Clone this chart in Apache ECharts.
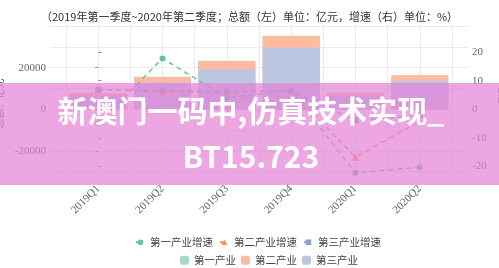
<!DOCTYPE html>
<html><head><meta charset="utf-8">
<script src="https://cdn.jsdelivr.net/npm/echarts@6/dist/echarts.min.js"></script>
<style>html,body{margin:0;padding:0;background:#fff}#c{width:499px;height:268px}</style>
</head><body><div id="c"></div>
<script>
const categories = ['2019Q1','2019Q2','2019Q3','2019Q4','2020Q1','2020Q2'];
const primary   = [20, 50, 75, 114, 20, 45];
const secondary = [1100, 2700, 4150, 5600, 1050, 2700];
const tertiary  = [6580, 12820, 19055, 29606, 6790, 13635];
const growth1 = [-5, 17.8, 4, 6.5, -22.3, -20.3];
const growth2 = [7, 6, 6, 6.5, -16.8, -4.2];
const growth3 = [6.8, 6.6, 6.2, 6.4, -3.9, -2.2];
const leftTicks = [-20000, 0, 20000];
const rightTicks = [-20, -10, 0, 10, 20];
const barNames = ['第一产业','第二产业','第三产业'];
const lineNames = ['第一产业增速','第二产业增速','第三产业增速'];
const titleText = '（2019年第一季度~2020年第二季度；总额（左）单位：亿元，增速（右）单位：%）';

const C1 = '#66c2a5', C2 = '#fc8d62', C3 = '#8da0cb';
// bar fills = palette at 60% over white (opaque so overlapping stack segments don't blend)
const B1 = '#a3dac9', B2 = '#fdbba1', B3 = '#bbc6e0';
const SERIF = '"Liberation Serif","Noto Sans CJK SC",serif';
const CJK = '"Noto Sans CJK SC",sans-serif';
const pos = categories.map((_, i) => i);
const pts = arr => arr.map((v, i) => [pos[i], v]);
// stacked tops (tertiary at bottom, then secondary, then primary on top)
const stackTop3 = tertiary.slice();
const stackTop2 = tertiary.map((v, i) => v + secondary[i]);
const stackTop1 = stackTop2.map((v, i) => v + primary[i]);

const chart = echarts.init(document.getElementById('c'), null, {renderer: 'canvas'});
const gridColor = '#ebebeb';
const tickStyle = {show: true, length: 3, lineStyle: {color: '#888', width: 1}};

function barSeries(name, data, color, z) {
  return {name, type: 'bar', xAxisIndex: 0, yAxisIndex: 0, z,
    barWidth: 57, barGap: '-100%', data: pts(data), itemStyle: {color}};
}
function lineSeries(name, data, color, symbol) {
  return {name, type: 'line', xAxisIndex: 0, yAxisIndex: 1, data: pts(data),
    symbol, symbolSize: symbol === 'triangle' ? 7 : 6,
    lineStyle: {color, width: 1.4, type: [5, 4]}, itemStyle: {color}, z: 5};
}

chart.setOption({
  animation: false,
  title: {text: titleText, left: 'center', top: 6,
    textStyle: {fontSize: 11, fontWeight: 'normal', color: '#333', fontFamily: CJK}},
  grid: {left: 50, right: 31, top: 25, bottom: 86, containLabel: false, outerBoundsMode: 'none'},
  xAxis: [
    {type: 'value', min: -0.75, max: 5.75, position: 'bottom',
      axisLine: {show: false}, splitLine: {show: false},
      axisTick: Object.assign({customValues: pos}, tickStyle),
      axisLabel: {customValues: pos, formatter: v => categories[Math.round(v)],
        rotate: 45, fontSize: 11, color: '#666', margin: 5, fontFamily: SERIF}},
    {type: 'value', min: -0.75, max: 5.75, interval: 0.25, position: 'top',
      axisLine: {show: false}, axisTick: {show: false}, axisLabel: {show: false},
      splitLine: {show: true, lineStyle: {color: ['rgba(0,0,0,0)', gridColor], width: 1}}}
  ],
  yAxis: [
    {type: 'value', min: -35000, max: 40500, position: 'left',
      name: '总额：亿元', nameLocation: 'middle', nameGap: 36,
      nameTextStyle: {fontSize: 10, color: '#555', fontFamily: CJK},
      axisLine: {show: false}, splitLine: {show: false},
      axisTick: Object.assign({customValues: leftTicks}, tickStyle),
      axisLabel: {customValues: leftTicks, formatter: v => String(v),
        fontSize: 11, color: '#666', margin: 4, fontFamily: SERIF}},
    {type: 'value', min: -25.5, max: 29.5, position: 'right',
      name: '增速：%', nameLocation: 'middle', nameGap: 24, nameRotate: -90,
      nameTextStyle: {fontSize: 10, color: '#555', fontFamily: CJK},
      axisLine: {show: false}, splitLine: {show: false},
      axisTick: Object.assign({customValues: rightTicks}, tickStyle),
      axisLabel: {customValues: rightTicks, formatter: v => String(v),
        fontSize: 11, color: '#666', margin: 4, fontFamily: SERIF}},
    {type: 'value', min: -35000, max: 40500, interval: 5000, position: 'left',
      axisLine: {show: false}, axisTick: {show: false}, axisLabel: {show: false},
      splitLine: {show: true, lineStyle: {color: ['rgba(0,0,0,0)', gridColor], width: 1}}}
  ],
  legend: [
    {data: lineNames, top: 232, left: 130, itemWidth: 9, itemHeight: 7, itemGap: 6,
      textStyle: {fontSize: 10.5, color: '#444', fontFamily: CJK}},
    {data: barNames, top: 250, left: 175, itemWidth: 9, itemHeight: 9, itemGap: 5,
      textStyle: {fontSize: 10.5, color: '#444', fontFamily: CJK}}
  ],
  series: [
    barSeries(barNames[0], stackTop1, B1, 1),
    barSeries(barNames[1], stackTop2, B2, 2),
    barSeries(barNames[2], stackTop3, B3, 3),
    lineSeries(lineNames[0], growth1, C1, 'circle'),
    lineSeries(lineNames[1], growth2, C2, 'triangle'),
    lineSeries(lineNames[2], growth3, C3, 'rect')
  ],
  graphic: [
    {type: 'rect', left: 0, top: 83, z: 100, silent: true,
      shape: {width: 499, height: 102}, style: {fill: 'rgba(228,130,215,0.7)'}},
    {type: 'text', z: 101, silent: true, x: 251, y: 111,
      style: {text: '新澳门一码中,仿真技术实现_', fill: '#fff', align: 'center', verticalAlign: 'middle',
        font: 'bold 30px "Noto Sans CJK SC", sans-serif'}},
    {type: 'text', z: 101, silent: true, x: 251, y: 157,
      style: {text: 'BT15.723', fill: '#fff', align: 'center', verticalAlign: 'middle',
        font: 'bold 30px "Noto Sans CJK SC", sans-serif'}}
  ]
});
</script></body></html>
